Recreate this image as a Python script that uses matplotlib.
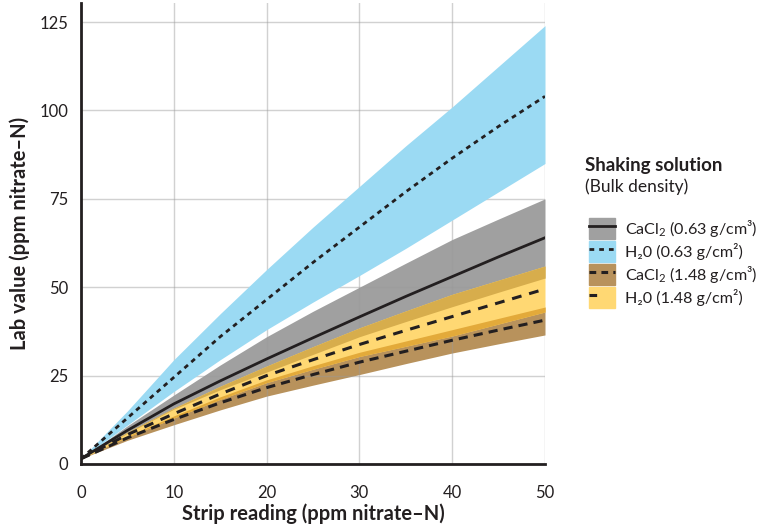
import numpy as np
import matplotlib
matplotlib.use("Agg")
import matplotlib.pyplot as plt
from matplotlib.patches import Patch
from matplotlib.lines import Line2D
from matplotlib.legend_handler import HandlerTuple

plt.rcParams['font.family'] = ['Lato', 'DejaVu Sans']
plt.rcParams['mathtext.fontset'] = 'custom'
plt.rcParams['mathtext.rm'] = 'Lato'

# Lectura de la tira (ppm nitrato-N)
strip = np.array([0, 5, 10, 15, 20, 25, 30, 35, 40, 45, 50])

# H2O, 0.63 g/cm3
h2o_lo_mid = [1.5, 13, 24.5, 36, 46.5, 57, 67, 77, 86.5, 95.5, 104]
h2o_lo_hi = [1.5, 15, 29.5, 42.5, 55, 67, 78.5, 90, 101, 112.5, 124]
h2o_lo_low = [1.5, 11, 20.5, 29.5, 38, 45.8, 53.3, 61, 69, 77, 85]

# CaCl2, 0.63 g/cm3
cacl_lo_mid = [1.5, 9.5, 17, 23.5, 29.7, 35.7, 41.6, 47.4, 53, 58.6, 64]
cacl_lo_hi = [1.5, 10.8, 19.5, 28, 36, 43.2, 50, 56.8, 63.5, 69.3, 75]
cacl_lo_low = [1.5, 8.7, 15.5, 21, 26, 31, 36, 40.3, 44.5, 48.6, 52.6]

# H2O, 1.48 g/cm3
h2o_hi_mid = [1.5, 8.3, 14.2, 19.8, 25, 29.5, 33.8, 37.8, 41.7, 45.6, 49.5]
h2o_hi_hi = [1.5, 9, 15.8, 22, 27.7, 33.2, 38.5, 43.3, 48, 52, 56]
h2o_hi_low = [1.5, 7.6, 13, 18.3, 23, 26.8, 30.4, 33.3, 36.2, 39.6, 43]

# CaCl2, 1.48 g/cm3
cacl_hi_mid = [1.5, 7.4, 12.6, 17.3, 21.6, 25.3, 28.8, 31.9, 35, 37.9, 40.7]
cacl_hi_hi = [1.5, 7.9, 13.6, 19, 23.8, 27.8, 31.6, 34.8, 38, 41.2, 44.4]
cacl_hi_low = [1.5, 6.7, 11.1, 15.3, 19.2, 22.3, 25.3, 28.4, 31.4, 34, 36.5]

c_blue = "#9bdaf3"
c_gray = "#a0a0a0"
c_yel = "#ffd873"
c_brn = "#b8925c"
c_over_yb = "#e3aa3a"
c_over_gy = "#d7ad4c"
c_ink = "#231f20"

fig = plt.figure(figsize=(7.67, 5.25), dpi=100)
ax = fig.add_axes([81 / 767, 61 / 525, 464 / 767, 461 / 525])

# bandas
ax.fill_between(strip, cacl_lo_low, cacl_lo_hi, color=c_gray, lw=0, zorder=1)
ax.fill_between(strip, cacl_hi_low, cacl_hi_hi, color=c_brn, lw=0, zorder=2)
ax.fill_between(strip, h2o_hi_low, h2o_hi_hi, color=c_yel, lw=0, zorder=3)
# solapamientos
ov1_lo = np.array(h2o_hi_low)
ov1_hi = np.minimum(cacl_hi_hi, h2o_hi_hi)
ax.fill_between(strip, ov1_lo, ov1_hi, where=ov1_hi >= ov1_lo, color=c_over_yb, lw=0, zorder=4)
ov2_lo = np.array(cacl_lo_low)
ov2_hi = np.array(h2o_hi_hi)
ax.fill_between(strip, ov2_lo, ov2_hi, where=ov2_hi >= ov2_lo, color=c_over_gy, lw=0, zorder=4)
ax.fill_between(strip, h2o_lo_low, h2o_lo_hi, color=c_blue, lw=0, zorder=5)

# líneas
ax.plot(strip, cacl_lo_mid, color=c_ink, lw=2, zorder=7)
ax.plot(strip, h2o_lo_mid, color=c_ink, lw=2, dashes=(1.7, 1.6), zorder=7)
ax.plot(strip, h2o_hi_mid, color=c_ink, lw=2.2, dashes=(3.2, 2.6), zorder=7)
ax.plot(strip, cacl_hi_mid, color=c_ink, lw=2.2, dashes=(3.0, 2.0), zorder=7)

ax.set_xlim(0, 50)
ax.set_ylim(0, 130.4)
ax.set_xticks([0, 10, 20, 30, 40, 50])
ax.set_yticks([0, 25, 50, 75, 100, 125])
ax.grid(True, color="#9a9a9a", alpha=0.45, lw=1, zorder=6)
ax.set_axisbelow(False)
for s in ["top", "right"]:
    ax.spines[s].set_visible(False)
for s in ["left", "bottom"]:
    ax.spines[s].set_color(c_ink)
    ax.spines[s].set_linewidth(2)
    ax.spines[s].set_zorder(8)
ax.tick_params(length=0, labelsize=12, colors=c_ink)
ax.tick_params(axis="x", pad=15)
ax.tick_params(axis="y", pad=9)
ax.set_xlabel("Strip reading (ppm nitrate\u2013N)", fontsize=14.5, fontweight="bold", color=c_ink, labelpad=2)
ax.set_ylabel("Lab value (ppm nitrate\u2013N)", fontsize=14.5, fontweight="bold", color=c_ink, labelpad=7)

# leyenda
fig.text(585 / 767, 1 - 165 / 525, "Shaking solution", fontsize=13.5, fontweight="bold", color=c_ink, va="center")
fig.text(585 / 767, 1 - 187 / 525, "(Bulk density)", fontsize=12.5, color=c_ink, va="center")

handles = [
    (Patch(color=c_gray), Line2D([], [], color=c_ink, lw=2)),
    (Patch(color=c_blue), Line2D([], [], color=c_ink, lw=2, dashes=(1.7, 1.8))),
    (Patch(color=c_brn), Line2D([], [], color=c_ink, lw=2.2, dashes=(2.2, 1.7))),
    (Patch(color=c_yel), Line2D([], [], color=c_ink, lw=2.2, dashes=(2.5, 8.0))),
]
labels = [
    "CaCl$_2$ (0.63 g/cm\u00b3)",
    "H\u20820 (0.63 g/cm\u00b2)",
    "CaCl$_2$ (1.48 g/cm\u00b3)",
    "H\u20820 (1.48 g/cm\u00b2)",
]
leg = fig.legend(handles, labels, handler_map={tuple: HandlerTuple(ndivide=1)},
                 loc="upper left", bbox_to_anchor=(576 / 767, 1 - 205 / 525),
                 frameon=False, fontsize=11.6, handlelength=1.65, handleheight=1.65,
                 labelspacing=0.1, handletextpad=0.6, borderpad=0.3)
for t in leg.get_texts():
    t.set_color(c_ink)

fig.savefig("out.png", dpi=100)
